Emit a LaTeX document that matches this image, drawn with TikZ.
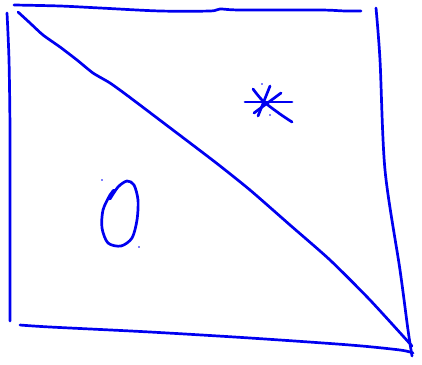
\documentclass[tikz,border=0pt]{standalone}
\begin{document}
\begin{tikzpicture}[x=1pt,y=-1pt,pen/.style={draw={rgb,255:red,0;green,0;blue,240},line width=2.7pt,line cap=round,line join=round}]
\useasboundingbox (0,0) rectangle (422,364);
% top
\draw[pen] plot[smooth] coordinates {(14,5) (60,6) (100,8) (160,11) (210,11) (220,9) (240,10) (320,10) (345,11) (361,11)};
% left
\draw[pen] plot[smooth] coordinates {(7,13) (9,60) (10,130) (10,220) (10,321)};
% right
\draw[pen] plot[smooth] coordinates {(376,8) (380,60) (385,170) (400,270) (408,330) (412,356)};
% bottom
\draw[pen] plot[smooth] coordinates {(20,325) (50,327) (150,332) (250,338) (350,345) (400,350) (413,353)};
% diagonal
\draw[pen] plot[smooth,tension=0.4] coordinates {(18,12) (30,23) (43,35) (60,47) (77,60) (93,73) (110,83) (128,96) (165,124) (215,162) (250,190) (290,225) (330,260) (370,300) (412,346)};
% asterisk
\draw[pen] (245,102) -- (292,102);
\draw[pen] plot[smooth] coordinates {(253,89) (263,101) (280,114) (292,122)};
\draw[pen] (258,116) -- (270,86);
\draw[pen] (254,113) -- (281,93);
\fill[blue] (262,84) circle (0.8);
\fill[blue] (270,115) circle (0.8);
% zero
\draw[pen] plot[smooth] coordinates {(110,199) (118,187) (127,181) (134,185) (138,200) (137,220) (132,238) (121,246) (108,243) (102,228) (103,210) (110,195) (114,190)};
\fill[blue] (102,180) circle (0.8);
\fill[blue] (139,247) circle (0.8);
\end{tikzpicture}
\end{document}
